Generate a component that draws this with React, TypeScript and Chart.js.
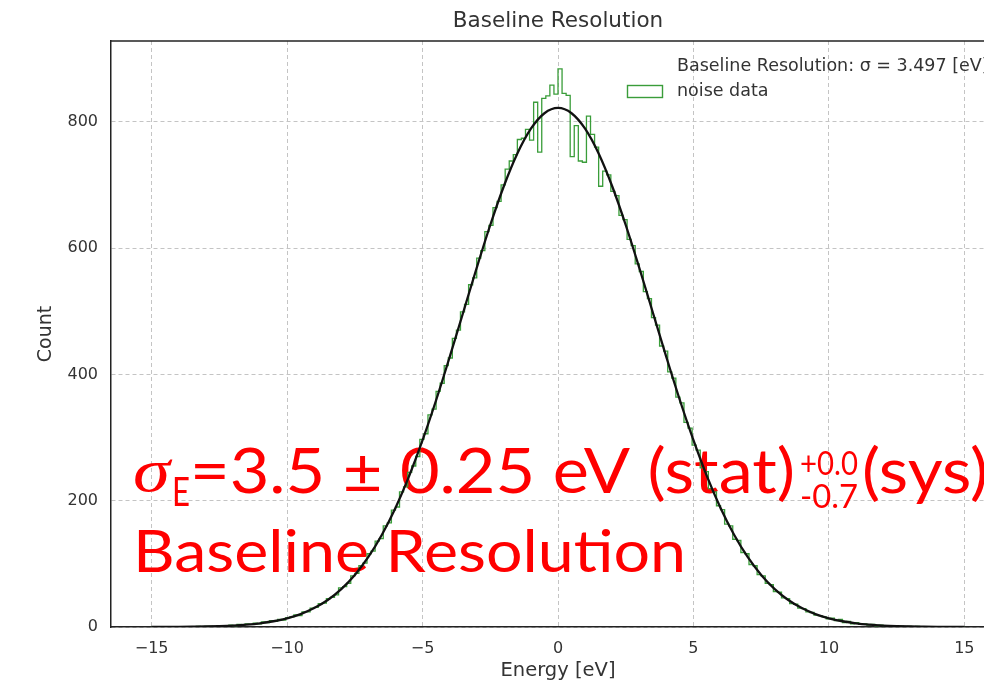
import React, { useEffect, useRef } from 'react';
import { Chart, registerables } from 'chart.js';

Chart.register(...registerables);

// ---- data ----
const binStart = -15;
const binWidth = 0.15;
const noiseCounts = [
  0, 0, 0, 0, 0, 0, 0, 0, 0, 0,
  0, 1, 0, 1, 1, 0, 2, 1, 2, 3,
  2, 4, 3, 5, 4, 6, 5, 8, 7, 10,
  9, 12, 11, 15, 16, 19, 18, 24, 24, 30,
  31, 37, 38, 45, 47, 51, 62, 64, 69, 81,
  85, 97, 101, 116, 120, 136, 140, 160, 165, 185,
  190, 214, 222, 245, 255, 270, 297, 306, 336, 345,
  373, 386, 414, 426, 457, 470, 499, 511, 542, 553,
  584, 596, 626, 636, 664, 674, 700, 725, 738, 748,
  772, 774, 788, 771, 831, 752, 837, 841, 858, 844,
  884, 845, 842, 745, 794, 738, 736, 809, 780, 760,
  698, 722, 716, 690, 683, 652, 645, 614, 604, 575,
  563, 531, 520, 490, 478, 445, 437, 404, 394, 364,
  355, 324, 315, 288, 280, 252, 246, 219, 214, 192,
  186, 163, 160, 139, 137, 118, 116, 99, 97, 83,
  81, 69, 67, 56, 55, 46, 45, 37, 36, 30,
  29, 24, 23, 19, 18, 16, 13, 14, 10, 12,
  7, 9, 5, 7, 4, 5, 3, 4, 2, 3,
  2, 1, 2, 1, 1, 0, 1, 0, 1, 0,
  0, 0, 0, 0, 0, 0, 0, 0, 0, 0,
];
const fitEnergies = [
  -15, -14.5, -14, -13.5, -13, -12.5, -12, -11.5, -11, -10.5,
  -10, -9.5, -9, -8.5, -8, -7.5, -7, -6.5, -6, -5.5,
  -5, -4.5, -4, -3.5, -3, -2.5, -2, -1.5, -1, -0.5,
  0,
  0.5, 1, 1.5, 2, 2.5, 3, 3.5, 4, 4.5, 5,
  5.5, 6, 6.5, 7, 7.5, 8, 8.5, 9, 9.5, 10,
  10.5, 11, 11.5, 12, 12.5, 13, 13.5, 14, 14.5, 15,
];
const fitCounts = [
  0.1, 0.2, 0.3, 0.5, 0.8, 1.4, 2.3, 3.7, 5.8, 9.1,
  13.8, 20.5, 30.0, 42.8, 60.0, 82.4, 110.9, 146.1, 188.6, 238.6,
  295.8, 359.1, 427.4, 498.1, 568.9, 636.6, 698.0, 749.8, 789.1, 813.6,
  822,
  813.6, 789.1, 749.8, 698.0, 636.6, 568.9, 498.1, 427.4, 359.1, 295.8,
  238.6, 188.6, 146.1, 110.9, 82.4, 60.0, 42.8, 30.0, 20.5, 13.8,
  9.1, 5.8, 3.7, 2.3, 1.4, 0.8, 0.5, 0.3, 0.2, 0.1,
];
const xTicks = [-15, -10, -5, 0, 5, 10, 15];
const yTicks = [0, 200, 400, 600, 800];
const xRange = [-16.5, 16.5];
const yRange = [0, 928];

const chartTitle = 'Baseline Resolution';
const xLabel = 'Energy [eV]';
const yLabel = 'Count';
const fitLabel = 'Baseline Resolution: \u03c3 = 3.497 [eV]';
const histLabel = 'noise data';
const noteSigma = '\u03c3';
const noteSub = 'E';
const noteMain = '=3.5 \u00b1 0.25 eV (stat)';
const noteSup = '+0.0';
const noteLow = '-0.7';
const noteSys = '(sys)';
const noteLine2 = 'Baseline Resolution';

const CANVAS_W = 1020;
const CANVAS_H = 684;
const GREEN = '#3a9d3a';
const TEXT = '#333333';
const SANS = '"DejaVu Sans", sans-serif';
const RED_FONT = 'Lato, "Open Sans", sans-serif';

function drawFitted(ctx: any, text: string, font: string, x: number, y: number, width: number) {
  ctx.font = font;
  const w = ctx.measureText(text).width || 1;
  ctx.save();
  ctx.translate(x, y);
  ctx.scale(width / w, 1);
  ctx.fillText(text, 0, 0);
  ctx.restore();
}

const overlayPlugin = {
  id: 'overlay',
  beforeDatasetsDraw(chart: any) {
    const ctx = chart.ctx;
    ctx.save();
    ctx.fillStyle = '#ff0000';
    ctx.textBaseline = 'alphabetic';
    ctx.textAlign = 'left';
    drawFitted(ctx, noteSigma, 'italic 62px "Liberation Serif", serif', 133, 491, 37);
    drawFitted(ctx, noteSub, `40px ${RED_FONT}`, 172, 506, 18);
    drawFitted(ctx, noteMain, `61px ${RED_FONT}`, 190, 493, 605);
    drawFitted(ctx, noteSup, `32px ${RED_FONT}`, 800, 475, 58);
    drawFitted(ctx, noteLow, `32px ${RED_FONT}`, 800, 508, 58);
    drawFitted(ctx, noteSys, `61px ${RED_FONT}`, 862, 493, 126);
    drawFitted(ctx, noteLine2, `59px ${RED_FONT}`, 133, 572, 553);
    ctx.restore();
  },
  afterDraw(chart: any) {
    const ctx = chart.ctx;
    const a = chart.chartArea;
    ctx.save();
    // top spine
    ctx.strokeStyle = '#222';
    ctx.lineWidth = 1.5;
    ctx.beginPath();
    ctx.moveTo(a.left, a.top);
    ctx.lineTo(a.right, a.top);
    ctx.stroke();
    // title
    ctx.fillStyle = TEXT;
    ctx.font = `21.5px ${SANS}`;
    ctx.textAlign = 'center';
    ctx.textBaseline = 'middle';
    ctx.fillText(chartTitle, (a.left + a.right) / 2, 21);
    // legend
    ctx.textAlign = 'left';
    ctx.font = `17.5px ${SANS}`;
    ctx.fillText(fitLabel, 677, 66);
    ctx.fillText(histLabel, 677, 91);
    ctx.strokeStyle = GREEN;
    ctx.lineWidth = 1.4;
    ctx.strokeRect(627.5, 85.5, 35, 12);
    ctx.restore();
  },
};

export default function App() {
  const ref = useRef<HTMLCanvasElement | null>(null);

  useEffect(() => {
    if (!ref.current) return;
    const histPoints: { x: number; y: number }[] = [{ x: binStart, y: 0 }];
    noiseCounts.forEach((c, i) => histPoints.push({ x: binStart + (i + 1) * binWidth, y: c }));
    histPoints.push({ x: binStart + noiseCounts.length * binWidth, y: 0 });
    const fitPoints = fitEnergies.map((e, i) => ({ x: e, y: fitCounts[i] }));

    const fmt = (v: number) => String(v).replace('-', '\u2212');

    const chart = new Chart(ref.current, {
      type: 'line',
      data: {
        datasets: [
          {
            label: fitLabel,
            data: fitPoints,
            borderColor: '#111111',
            borderWidth: 2.3,
            pointRadius: 0,
            cubicInterpolationMode: 'monotone',
            fill: false,
            order: 0,
          },
          {
            label: histLabel,
            data: histPoints,
            borderColor: GREEN,
            borderWidth: 1.3,
            pointRadius: 0,
            stepped: 'after',
            fill: false,
            order: 1,
          },
        ],
      },
      options: {
        animation: false,
        responsive: false,
        devicePixelRatio: 1,
        layout: { padding: { left: 0, top: 41, right: CANVAS_W - 1005, bottom: 0 } },
        plugins: {
          legend: { display: false },
          title: { display: false },
          tooltip: { enabled: false },
        },
        scales: {
          x: {
            type: 'linear',
            min: xRange[0],
            max: xRange[1],
            afterBuildTicks: (s: any) => {
              s.ticks = xTicks.map((v) => ({ value: v }));
            },
            afterFit: (s: any) => {
              s.height = 57;
            },
            ticks: {
              color: TEXT,
              font: { family: SANS, size: 16 },
              padding: 12,
              maxRotation: 0,
              callback: (v: any) => fmt(v),
            },
            grid: {
              color: '#c4c4c4',
              lineWidth: 1,
              drawTicks: false,
            },
            border: { display: true, color: '#222', width: 1.5, dash: [4, 3] },
            title: {
              display: true,
              text: xLabel,
              color: TEXT,
              font: { family: SANS, size: 19.5 },
              padding: { top: 0, bottom: 1 },
            },
          },
          y: {
            type: 'linear',
            min: yRange[0],
            max: yRange[1],
            afterBuildTicks: (s: any) => {
              s.ticks = yTicks.map((v) => ({ value: v }));
            },
            afterFit: (s: any) => {
              s.width = 111;
            },
            ticks: {
              color: TEXT,
              font: { family: SANS, size: 16 },
              padding: 13,
              callback: (v: any) => fmt(v),
            },
            grid: {
              color: '#c4c4c4',
              lineWidth: 1,
              drawTicks: false,
            },
            border: { display: true, color: '#222', width: 1.5, dash: [4, 3] },
            title: {
              display: true,
              text: yLabel,
              color: TEXT,
              font: { family: SANS, size: 19 },
              padding: { top: 35, bottom: 0 },
            },
          },
        },
      } as any,
      plugins: [overlayPlugin],
    });
    return () => chart.destroy();
  }, []);

  return (
    <div
      style={{
        position: 'absolute',
        left: 0,
        top: 0,
        width: 984,
        height: 684,
        overflow: 'hidden',
        background: '#ffffff',
      }}
    >
      <canvas ref={ref} width={CANVAS_W} height={CANVAS_H} style={{ display: 'block' }} />
    </div>
  );
}
